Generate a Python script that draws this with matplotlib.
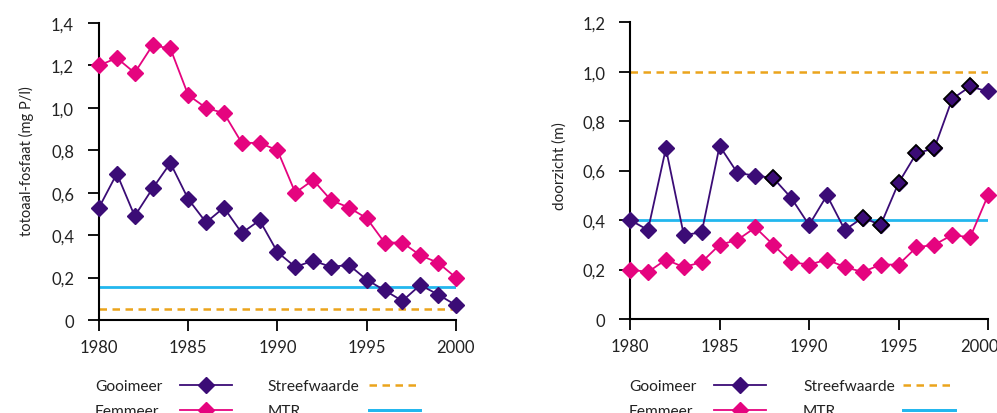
import numpy as np
import matplotlib
matplotlib.use("Agg")
import matplotlib.pyplot as plt
from matplotlib.transforms import ScaledTranslation

plt.rcParams['font.family'] = ['Lato', 'DejaVu Sans']

# data
jaren = list(range(1980, 2001))

fosfaat_gooimeer = [0.53, 0.69, 0.49, 0.62, 0.74, 0.57, 0.46, 0.53, 0.41, 0.47,
                    0.32, 0.25, 0.28, 0.25, 0.26, 0.19, 0.14, 0.09, 0.165, 0.12, 0.07]
fosfaat_eemmeer = [1.20, 1.235, 1.165, 1.295, 1.28, 1.06, 1.00, 0.975, 0.835, 0.835,
                   0.80, 0.60, 0.66, 0.565, 0.53, 0.48, 0.365, 0.365, 0.305, 0.27, 0.20]
fosfaat_streef = 0.05
fosfaat_mtr = 0.155

doorzicht_gooimeer = [0.40, 0.36, 0.69, 0.34, 0.35, 0.70, 0.59, 0.58, 0.57, 0.49,
                      0.38, 0.50, 0.36, 0.41, 0.38, 0.55, 0.67, 0.69, 0.89, 0.94, 0.92]
doorzicht_eemmeer = [0.20, 0.19, 0.24, 0.21, 0.23, 0.30, 0.32, 0.37, 0.30, 0.23,
                     0.22, 0.24, 0.21, 0.19, 0.22, 0.22, 0.29, 0.30, 0.34, 0.33, 0.50]
doorzicht_streef = 1.0
doorzicht_mtr = 0.4
# jaren waarvan de marker zwart omlijnd is (rechter grafiek)
omlijnd = [1988, 1993, 1994, 1995, 1996, 1997, 1998, 1999]

x_ticks = [1980, 1985, 1990, 1995, 2000]
y_ticks_links = [0, 0.2, 0.4, 0.6, 0.8, 1.0, 1.2, 1.4]
y_labels_links = ["0", "0,2", "0,4", "0,6", "0,8", "1,0", "1,2", "1,4"]
y_ticks_rechts = [0, 0.2, 0.4, 0.6, 0.8, 1.0, 1.2]
y_labels_rechts = ["0", "0,2", "0,4", "0,6", "0,8", "1,0", "1,2"]

paars = "#3b0c76"
roze = "#e5047f"
oranje = "#eba41c"
blauw = "#22b7ee"
tekstkleur = "#222222"

fig = plt.figure(figsize=(9.97, 4.14), dpi=100)
ax1 = fig.add_axes([0.0993, 0.2246, 0.358, 0.7174])
ax2 = fig.add_axes([0.632, 0.227, 0.359, 0.717])


def teken(ax, goo, eem, streef, mtr, yticks, ylabels, ymax, ylabel, lblsize):
    s = ax.axhline(streef, color=oranje, lw=1.8, ls=(0, (3, 2.2)), zorder=1)
    m = ax.axhline(mtr, color=blauw, lw=2, zorder=1)
    l1, = ax.plot(jaren, goo, color=paars, lw=1.3, marker="D", ms=8.5,
                  mec=paars, mfc=paars, clip_on=False, zorder=3)
    l2, = ax.plot(jaren, eem, color=roze, lw=1.3, marker="D", ms=8.5,
                  mec=roze, mfc=roze, clip_on=False, zorder=3)
    ax.set_xlim(1980, 2000)
    ax.set_ylim(0, ymax)
    ax.set_xticks(x_ticks)
    ax.set_yticks(yticks)
    ax.set_yticklabels(ylabels)
    ax.spines["top"].set_visible(False)
    ax.spines["right"].set_visible(False)
    ax.spines["left"].set_linewidth(1.5)
    ax.spines["bottom"].set_linewidth(1.5)
    ax.tick_params(direction="out", length=8, width=1.3, labelsize=12, labelcolor=tekstkleur)
    ax.tick_params(axis="x", pad=6)
    ax.tick_params(axis="y", pad=10)
    ax.set_ylabel(ylabel, fontsize=lblsize, color=tekstkleur)
    return [l1, l2, s, m]


def legenda(ax, handles, tekst_x, handle_x, rij_y):
    namen = ["Gooimeer", "Eemmeer", "Streefwaarde", "MTR"]
    for i, (h, naam) in enumerate(zip(handles, namen)):
        kol, rij = i // 2, i % 2
        ax.text(tekst_x[kol], rij_y[rij], naam, transform=ax.transAxes,
                ha="left", va="center", fontsize=11.2, color=tekstkleur)
        leg = ax.legend([h], [""], loc="center", bbox_to_anchor=(handle_x[kol], rij_y[rij]),
                        frameon=False, handlelength=3.1, handletextpad=0, borderpad=0,
                        borderaxespad=0, numpoints=1, fontsize=12)
        ax.add_artist(leg)


h1 = teken(ax1, fosfaat_gooimeer, fosfaat_eemmeer, fosfaat_streef, fosfaat_mtr,
           y_ticks_links, y_labels_links, 1.4, "totoaal-fosfaat (mg P/l)", 10.5)
h2 = teken(ax2, doorzicht_gooimeer, doorzicht_eemmeer, doorzicht_streef, doorzicht_mtr,
           y_ticks_rechts, y_labels_rechts, 1.2, "doorzicht (m)", 11)

# zwart omlijnde markers rechts
for j, v in zip(jaren, doorzicht_gooimeer):
    if j in omlijnd:
        ax2.plot([j], [v], marker="D", ms=8.5, mfc=paars, mec="black", mew=1.3,
                 ls="none", clip_on=False, zorder=4)

# laatste jaartal rechts iets naar links, zoals in het origineel
lbl = ax2.get_xticklabels()[-1]
lbl.set_transform(lbl.get_transform() + ScaledTranslation(-9 / 100, 0, fig.dpi_scale_trans))

ax1.yaxis.set_label_coords(-0.182, 0.537)
ax2.yaxis.set_label_coords(-0.176, 0.517)

legenda(ax1, h1, [-0.011, 0.473], [0.30, 0.828], [-0.222, -0.306])
legenda(ax2, h2, [-0.003, 0.483], [0.307, 0.835], [-0.2256, -0.31])

fig.savefig("out.png", dpi=100)
